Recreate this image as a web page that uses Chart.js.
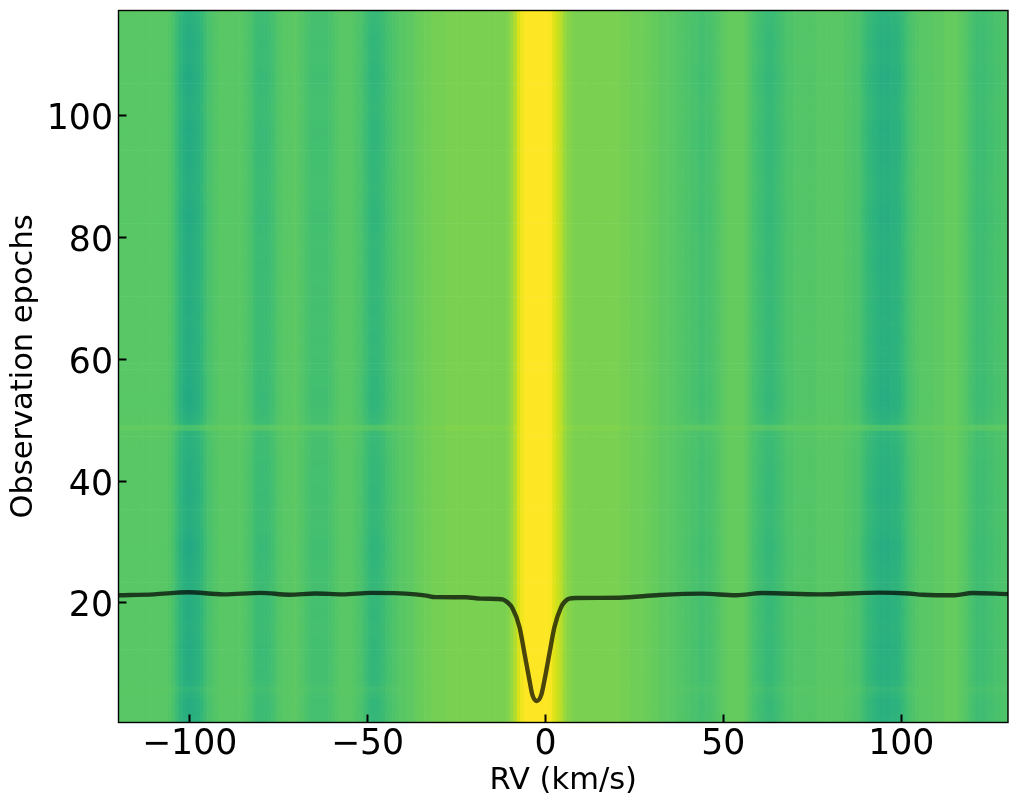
<!DOCTYPE html>
<html><head><meta charset="utf-8">
<script src="https://cdn.jsdelivr.net/npm/chart.js@4"></script>
<style>html,body{margin:0;padding:0;background:#fff}canvas{display:block}</style>
</head><body><canvas id="c" width="1018" height="805"></canvas>
<script>
const xTicks=[-100,-50,0,50,100];
const yTicks=[20,40,60,80,100];
const rvStart=-119.5;
const epochStart=0.32;
// brightness (colormap percent) per 1 km/s column
const columnLevel=[
74,74,74,74,74,74,74,74,74,74,
74,74,74,74,73,71,68,65,63,62,
62,63,64,66,69,71,72,73,74,74,
74,74,74,74,74,73,72,71,69,68,
68,68,69,70,72,73,74,74,74,75,
74,73,72,71,70,70,70,70,70,71,
72,73,74,74,74,74,73,72,71,69,
67,66,66,67,68,70,71,72,73,74,
74,75,75,76,77,77,78,78,79,79,
79,79,80,80,80,80,80,80,80,80,
80,80,80,80,80,80,80,80,80,81,
84,88,94,98,100,100,100,100,100,100,
100,99,95,92,89,85,82,81,80,80,
80,80,80,80,80,80,80,80,80,80,
80,79,79,79,78,78,78,78,77,77,
76,76,75,75,75,74,74,73,73,72,
72,71,71,70,70,71,71,72,73,74,
75,76,76,76,76,76,75,73,71,70,
69,68,67,67,68,69,70,71,72,72,
73,73,73,73,73,73,74,74,74,74,
74,74,74,74,73,73,72,72,71,69,
67,66,65,64,63,63,63,64,64,65,
67,69,71,72,73,74,74,74,74,75,
75,75,76,76,76,76,75,74,73,71,
70,69,69,69,70,70,71,71,72,72];
// strength of the dark bands in each epoch (row 1 to 117)
const rowDepth=[
.95,.98,1,1,.9,.78,.94,1,1.02,1,
1,1.02,1.04,1,.98,.96,.97,1,1,.98,
.97,.96,.96,.97,1,1.02,1.04,1.06,1.08,1.08,
1.04,1,.98,.96,.96,.97,1,1.02,1,.98,
.97,.97,.96,.94,.92,.9,.88,.82,.4,.88,
.96,1.02,1.06,1.08,1.06,1.04,1.04,1.02,1,1,
.97,.97,1,1,.98,.96,.97,1,1,.98,
.96,.96,.97,1,1,1.02,1,1,.98,1,
1.02,1.04,1.06,1.06,1.04,1.02,1,.97,.97,1,
1,1.02,1.03,1.03,1.04,1.04,1.05,1.06,1.04,1,
.97,.97,1,1.02,1.04,1.06,1.08,1.04,1,.97,
1,1.02,1,.97,.96,.92,.88];
const continuumLevel=75;
// rows that are brighter as a whole, and by how much
const brightRows=[49];
const brightLift=[1];
// mean profile overlay
const profileRV=[-120,-110,-100.5,-90.5,-80,-72,-64.6,-57,-49,-36.5,-33.5,-31,-22.5,-18,-13.5,-12.1,-10.8,-9.3,-7.3,-5.9,-4.5,-3.65,-2.44,-1.2,-0.28,1.12,2.53,4.4,5.6,6.7,8.6,20.8,32,44,53.6,61,77,94,102,106,115,120,130];
const profileEpoch=[21.22,21.38,21.72,21.38,21.62,21.32,21.52,21.38,21.62,21.38,21.17,20.92,20.89,20.67,20.62,20.54,20.12,19.12,16.02,11.69,7.26,4.82,3.86,4.82,7.26,11.69,16.02,19.29,20.27,20.67,20.77,20.82,21.26,21.49,21.22,21.59,21.38,21.66,21.52,21.32,21.22,21.59,21.42];

const viridisStops=[[50,[33,145,140]],[55,[31,158,137]],[60,[34,168,132]],[65,[47,180,124]],[70,[68,191,112]],[75,[94,201,98]],[80,[122,209,81]],[85,[154,217,60]],[90,[189,223,38]],[95,[223,227,24]],[100,[253,231,37]]];
function levelColor(v){
  v=Math.max(50,Math.min(100,v));
  for(let i=1;i<viridisStops.length;i++){
    const [a,ca]=viridisStops[i-1],[b,cb]=viridisStops[i];
    if(v<=b){const t=(v-a)/(b-a);
      return `rgb(${ca.map((c,k)=>Math.round(c+(cb[k]-c)*t)).join(',')})`;}
  }
}
const cells=[];
rowDepth.forEach((d,r)=>{
  const bi=brightRows.indexOf(r+1);
  const lift=bi>=0?brightLift[bi]:0;
  columnLevel.forEach((p,c)=>{
    const v=p<continuumLevel?continuumLevel+(p-continuumLevel)*d+lift:Math.min(100,p+lift*(p<90?1:0));
    cells.push({x:rvStart+c,y:[epochStart+r,epochStart+r+1],v});
  });
});
const framePlugin={id:'frame',afterDraw(ch){
  const a=ch.chartArea,g=ch.ctx;g.save();g.strokeStyle='#000';g.lineWidth=1.4;
  g.strokeRect(a.left,a.top,a.right-a.left,a.bottom-a.top);g.restore();}};
const fmt=v=>String(v).replace('-','\u2212');
const font='"DejaVu Sans"';
new Chart(document.getElementById('c'),{
  type:'bar',
  data:{datasets:[
    {type:'line',order:0,data:profileRV.map((x,i)=>({x,y:profileEpoch[i]})),borderColor:'rgba(0,0,0,0.7)',borderWidth:4.4,pointRadius:0,tension:0,cubicInterpolationMode:'monotone',borderJoinStyle:'round'},
    {type:'bar',order:1,data:cells,barPercentage:1,categoryPercentage:1,borderWidth:0,backgroundColor:ctx=>levelColor(ctx.raw?ctx.raw.v:75)}
  ]},
  options:{
    responsive:false,animation:false,devicePixelRatio:1,
    layout:{padding:{top:10.5,right:10,left:0,bottom:0}},
    plugins:{legend:{display:false},tooltip:{enabled:false}},
    events:[],
    scales:{
      x:{type:'linear',offset:false,min:-120,max:130,
        afterBuildTicks:s=>{s.ticks=xTicks.map(value=>({value}))},
        afterFit:s=>{s.height=82.5;s.paddingLeft=0;s.paddingRight=0},
        grid:{offset:false,drawOnChartArea:false,drawTicks:true,tickLength:-8,tickWidth:2,tickColor:'#000',z:1},
        border:{display:false},
        ticks:{autoSkip:false,maxRotation:0,color:'#000',padding:9.5,font:{family:font,size:34.7},callback:fmt},
        title:{display:true,text:'RV (km/s)',color:'#000',font:{family:font,size:30.5},padding:{top:0,bottom:6}}},
      y:{type:'linear',min:epochStart,max:epochStart+117,
        afterBuildTicks:s=>{s.ticks=yTicks.map(value=>({value}))},
        afterFit:s=>{s.width=118.5;s.paddingTop=0;s.paddingBottom=0},
        grid:{offset:false,drawOnChartArea:false,drawTicks:true,tickLength:-8,tickWidth:2,tickColor:'#000',z:1},
        border:{display:false},
        ticks:{autoSkip:false,color:'#000',padding:13.5,labelOffset:4.5,font:{family:font,size:34.7},callback:fmt},
        title:{display:true,text:'Observation epochs',color:'#000',font:{family:font,size:30.5},padding:{top:6,bottom:0}}}
    }
  },
  plugins:[framePlugin]
});
</script></body></html>
